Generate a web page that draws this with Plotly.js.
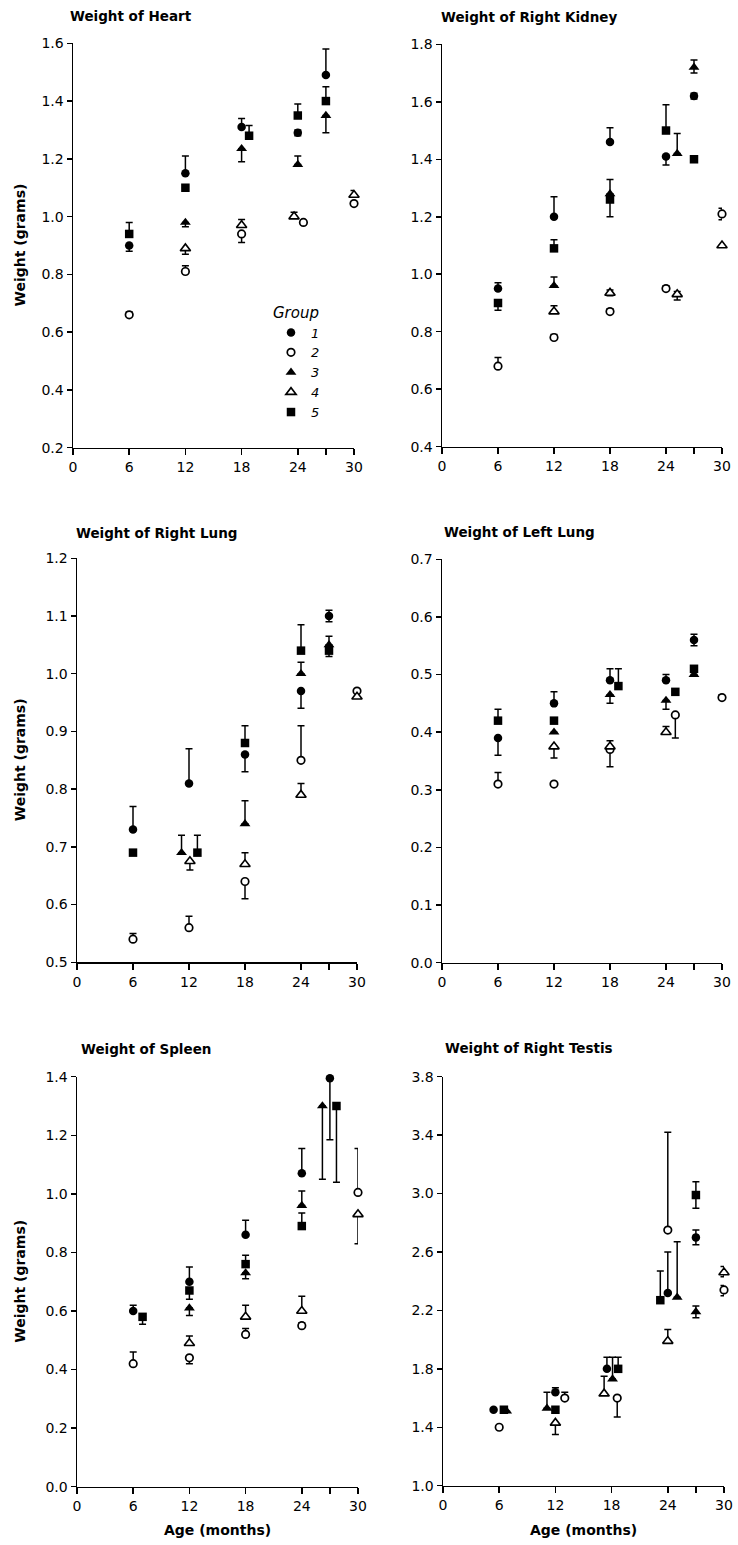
<!DOCTYPE html>
<html><head><meta charset="utf-8">
<script src="https://cdn.plot.ly/plotly-3.0.1.min.js"></script>
<style>html,body{margin:0;padding:0;background:#fff}#chart{width:738px;height:1545px}</style>
</head><body><div id="chart"></div>
<script>
// Each point: [age (months), weight (grams), error above, error below]
const groupNames = ['1', '2', '3', '4', '5'];
const ageTickVals = [0, 6, 12, 18, 24, 27, 30];
const ageTickText = ['0', '6', '12', '18', '24', '', '30'];

// Weight of Heart
const heartG1 = [[6, 0.90, 0, 0.02], [12, 1.15, 0.06, 0], [18, 1.31, 0.03, 0], [24, 1.29, 0.01, 0.01], [27, 1.49, 0.09, 0]];
const heartG2 = [[6, 0.66, 0.01, 0], [12, 0.81, 0.02, 0], [18, 0.94, 0, 0.03], [24.6, 0.98, 0, 0], [30, 1.045, 0, 0]];
const heartG3 = [[12, 0.98, 0, 0.015], [18, 1.235, 0, 0.045], [24, 1.18, 0.03, 0], [27, 1.35, 0, 0.06]];
const heartG4 = [[12, 0.89, 0, 0.02], [18, 0.97, 0.02, 0], [23.6, 1.00, 0.015, 0], [30, 1.075, 0.015, 0]];
const heartG5 = [[6, 0.94, 0.04, 0], [12, 1.10, 0.01, 0], [18.8, 1.28, 0.035, 0], [24, 1.35, 0.04, 0], [27, 1.40, 0.05, 0]];

// Weight of Right Kidney
const kidneyG1 = [[6, 0.95, 0.02, 0], [12, 1.20, 0.07, 0], [18, 1.46, 0.05, 0], [24, 1.41, 0, 0.03], [27, 1.62, 0.01, 0.01]];
const kidneyG2 = [[6, 0.68, 0.03, 0], [12, 0.78, 0.01, 0], [18, 0.87, 0.01, 0], [24, 0.95, 0.01, 0], [30, 1.21, 0.02, 0.02]];
const kidneyG3 = [[12, 0.96, 0.03, 0], [18, 1.28, 0.05, 0], [25.2, 1.42, 0.07, 0], [27, 1.72, 0.025, 0.02]];
const kidneyG4 = [[12, 0.87, 0.02, 0], [18, 0.935, 0.01, 0.01], [25.2, 0.93, 0.01, 0.02], [30, 1.10, 0, 0]];
const kidneyG5 = [[6, 0.90, 0, 0.025], [12, 1.09, 0.03, 0], [18, 1.26, 0, 0.06], [24, 1.50, 0.09, 0], [27, 1.40, 0.01, 0.01]];

// Weight of Right Lung
const rLungG1 = [[6, 0.73, 0.04, 0], [12, 0.81, 0.06, 0], [18, 0.86, 0, 0.03], [24, 0.97, 0, 0.03], [27, 1.10, 0.01, 0.01]];
const rLungG2 = [[6, 0.54, 0.01, 0], [12, 0.56, 0.02, 0], [18, 0.64, 0, 0.03], [24, 0.85, 0.06, 0], [30, 0.97, 0, 0]];
const rLungG3 = [[11.2, 0.69, 0.03, 0], [18, 0.74, 0.04, 0], [24, 1.00, 0.02, 0], [27, 1.05, 0.015, 0]];
const rLungG4 = [[12.1, 0.675, 0, 0.015], [18, 0.67, 0.02, 0], [24, 0.79, 0.02, 0], [30, 0.96, 0, 0]];
const rLungG5 = [[6, 0.69, 0, 0], [12.9, 0.69, 0.03, 0], [18, 0.88, 0.03, 0], [24, 1.04, 0.045, 0], [27, 1.04, 0, 0.01]];

// Weight of Left Lung
const lLungG1 = [[6, 0.39, 0, 0.03], [12, 0.45, 0.02, 0], [18, 0.49, 0.02, 0], [24, 0.49, 0.01, 0], [27, 0.56, 0.01, 0.01]];
const lLungG2 = [[6, 0.31, 0.02, 0], [12, 0.31, 0, 0], [18, 0.37, 0, 0.03], [25, 0.43, 0, 0.04], [30, 0.46, 0.005, 0]];
const lLungG3 = [[12, 0.40, 0, 0], [18, 0.465, 0, 0.015], [24, 0.455, 0, 0.015], [27, 0.50, 0, 0]];
const lLungG4 = [[12, 0.375, 0, 0.02], [18, 0.375, 0.01, 0], [24, 0.40, 0.01, 0], [30.9, 0.46, 0, 0]];
const lLungG5 = [[6, 0.42, 0.02, 0], [12, 0.42, 0, 0], [18.9, 0.48, 0.03, 0], [25, 0.47, 0, 0], [27, 0.51, 0, 0]];

// Weight of Spleen
const spleenG1 = [[6, 0.60, 0.02, 0], [12, 0.70, 0.05, 0], [18, 0.86, 0.05, 0], [24, 1.07, 0.085, 0], [27, 1.395, 0, 0.21]];
const spleenG2 = [[6, 0.42, 0.04, 0], [12, 0.44, 0, 0.02], [18, 0.52, 0.02, 0], [24, 0.55, 0.01, 0], [30, 1.005, 0.15, 0]];
const spleenG3 = [[12, 0.61, 0, 0.025], [18, 0.73, 0, 0.02], [24, 0.96, 0.05, 0], [26.2, 1.30, 0, 0.25]];
const spleenG4 = [[12, 0.49, 0.025, 0], [18, 0.58, 0.04, 0], [24, 0.60, 0.05, 0], [30, 0.93, 0, 0.10]];
const spleenG5 = [[7, 0.58, 0, 0.025], [12, 0.67, 0, 0.03], [18, 0.76, 0.03, 0], [24, 0.89, 0.045, 0], [27.7, 1.30, 0, 0.26]];

// Weight of Right Testis
const testisG1 = [[5.4, 1.52, 0, 0], [12, 1.64, 0.03, 0], [17.5, 1.80, 0.08, 0], [24, 2.32, 0.28, 0], [27, 2.70, 0.05, 0.05]];
const testisG2 = [[6, 1.40, 0.01, 0], [13, 1.60, 0.04, 0], [18.6, 1.60, 0, 0.13], [24, 2.75, 0.67, 0], [30, 2.34, 0.03, 0.04]];
const testisG3 = [[6.8, 1.51, 0, 0], [11.1, 1.53, 0.11, 0], [18.1, 1.73, 0.15, 0], [25, 2.29, 0.38, 0], [27, 2.19, 0.04, 0.04]];
const testisG4 = [[12, 1.43, 0, 0.08], [17.2, 1.63, 0.12, 0], [24, 1.99, 0.08, 0], [30, 2.46, 0.04, 0.03]];
const testisG5 = [[6.5, 1.52, 0, 0], [12, 1.52, 0, 0], [18.7, 1.80, 0.08, 0], [23.2, 2.27, 0.20, 0], [27, 2.99, 0.09, 0.09]];

const panelTitles = ['Weight of Heart', 'Weight of Right Kidney', 'Weight of Right Lung',
                     'Weight of Left Lung', 'Weight of Spleen', 'Weight of Right Testis'];
const panelGroups = [
  [heartG1, heartG2, heartG3, heartG4, heartG5],
  [kidneyG1, kidneyG2, kidneyG3, kidneyG4, kidneyG5],
  [rLungG1, rLungG2, rLungG3, rLungG4, rLungG5],
  [lLungG1, lLungG2, lLungG3, lLungG4, lLungG5],
  [spleenG1, spleenG2, spleenG3, spleenG4, spleenG5],
  [testisG1, testisG2, testisG3, testisG4, testisG5]
];
const yMin = [0.2, 0.4, 0.5, 0.0, 0.0, 1.0];
const yMax = [1.6, 1.8, 1.2, 0.7, 1.4, 3.8];
const yStep = [0.2, 0.2, 0.1, 0.1, 0.2, 0.4];
const yTitle = 'Weight (grams)';
const xTitle = 'Age (months)';

// ---------- layout (pixels) ----------
const W = 738, H = 1545;
const boxes = [ // [left, right, top, bottom] in px
  [73, 354, 43.3, 447.7], [442, 722, 44.3, 446.7],
  [77, 357, 558.3, 962.3], [442, 722, 559.3, 962.7],
  [77, 358, 1076.7, 1486.7], [443, 724, 1076.7, 1485.7]
];
const titlePos = [[68, 16], [439, 17], [74, 533], [442, 532], [79, 1049], [443, 1048]];

const styles = [
  {symbol: 'circle', size: 8.5, color: 'black', lw: 0},
  {symbol: 'circle', size: 7.5, color: 'white', lw: 1.7},
  {symbol: 'triangle-up', size: 9.5, color: 'black', lw: 0},
  {symbol: 'triangle-up', size: 9, color: 'white', lw: 1.6},
  {symbol: 'square', size: 8.5, color: 'black', lw: 0}
];

const FONT = 'DejaVu Sans';
const traces = [];
const layout = {
  width: W, height: H, margin: {l: 0, r: 0, t: 0, b: 0},
  paper_bgcolor: 'white', plot_bgcolor: 'white',
  showlegend: true,
  legend: {
    x: 271 / W, y: 1 - 298 / H, xanchor: 'left', yanchor: 'top',
    bgcolor: 'rgba(0,0,0,0)', borderwidth: 0, tracegroupgap: 0,
    font: {family: FONT, size: 13, style: 'italic', color: 'black'},
    title: {text: 'Group', font: {family: FONT, size: 15, style: 'italic', color: 'black'}}
  },
  annotations: []
};

panelGroups.forEach((groups, p) => {
  const k = p === 0 ? '' : String(p + 1);
  const [l, r, t, b] = boxes[p];
  layout['xaxis' + k] = {
    domain: [l / W, r / W], range: [0, 30], anchor: 'y' + k,
    tickmode: 'array', tickvals: ageTickVals, ticktext: ageTickText,
    ticks: 'outside', ticklen: 6, tickwidth: 1.5, tickcolor: 'black',
    showline: true, linecolor: 'black', linewidth: 1.5,
    showgrid: false, zeroline: false, fixedrange: true,
    tickfont: {family: FONT, size: 14, color: 'black'}
  };
  layout['yaxis' + k] = {
    domain: [1 - b / H, 1 - t / H], range: [yMin[p], yMax[p]], anchor: 'x' + k,
    tick0: yMin[p], dtick: yStep[p], tickformat: '.1f',
    ticks: 'outside', ticklen: 5, tickwidth: 1.5, tickcolor: 'black',
    showline: true, linecolor: 'black', linewidth: 1.5,
    showgrid: false, zeroline: false, fixedrange: true,
    tickfont: {family: FONT, size: 14, color: 'black'}
  };
  layout.annotations.push({
    text: panelTitles[p], xref: 'paper', yref: 'paper',
    x: titlePos[p][0] / W, y: 1 - titlePos[p][1] / H, xanchor: 'left', yanchor: 'middle',
    showarrow: false, font: {family: FONT, size: 13.5, weight: 'bold', color: 'black'}
  });
  if (p % 2 === 0) {
    layout.annotations.push({
      text: yTitle, xref: 'paper', yref: 'paper', textangle: -90,
      x: 20 / W, y: 1 - ((t + b) / 2) / H, xanchor: 'center', yanchor: 'middle',
      showarrow: false, font: {family: FONT, size: 14, weight: 'bold', color: 'black'}
    });
  }
  if (p >= 4) {
    layout.annotations.push({
      text: xTitle, xref: 'paper', yref: 'paper',
      x: ((l + r) / 2) / W, y: 1 - 1530 / H, xanchor: 'center', yanchor: 'middle',
      showarrow: false, font: {family: FONT, size: 14, weight: 'bold', color: 'black'}
    });
  }
  groups.forEach((pts, g) => {
    const s = styles[g];
    traces.push({
      type: 'scatter', mode: 'markers',
      x: pts.map(d => d[0]), y: pts.map(d => d[1]),
      xaxis: 'x' + k, yaxis: 'y' + k,
      name: groupNames[g], legendgroup: 'g' + g, showlegend: p === 0,
      cliponaxis: false, hoverinfo: 'x+y',
      marker: {symbol: s.symbol, size: s.size, color: s.color, line: {color: 'black', width: s.lw}},
      error_y: {
        type: 'data', symmetric: false,
        array: pts.map(d => d[2]), arrayminus: pts.map(d => d[3]),
        color: 'black', thickness: 1.5, width: 3.5
      }
    });
  });
});

Plotly.newPlot('chart', traces, layout, {staticPlot: true, displayModeBar: false});
</script>
</body></html>
